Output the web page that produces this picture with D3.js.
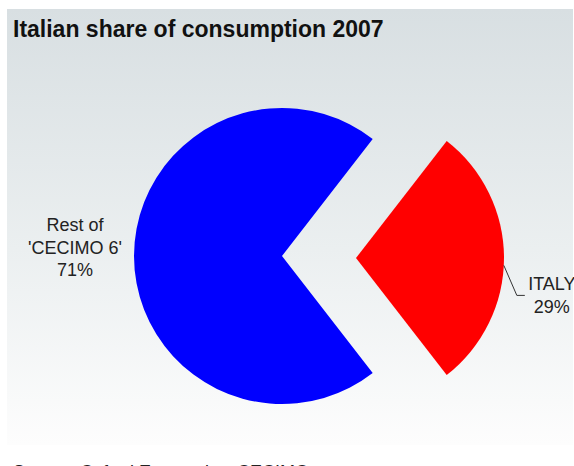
<!DOCTYPE html>
<html>
<head>
<meta charset="utf-8">
<script src="https://cdn.jsdelivr.net/npm/d3@7"></script>
<style>
  html, body { margin: 0; padding: 0; background: #ffffff; }
  svg { display: block; }
</style>
</head>
<body>
<svg id="chart" width="574" height="466"></svg>
<script>
// Data
const categories = ["ITALY", "Rest of 'CECIMO 6'"];
const shares = [29, 71];
const labelLines = [["ITALY", "29%"], ["Rest of", "'CECIMO 6'", "71%"]];
const sliceColors = ["#ff0000", "#0000ff"];
const title = "Italian share of consumption 2007";
const source = "Source: Oxford Economics, CECIMO";

const svg = d3.select("#chart");

// Background panel gradient
const defs = svg.append("defs");
const grad = defs.append("linearGradient").attr("id", "bg").attr("x1", 0).attr("y1", 0).attr("x2", 0).attr("y2", 1);
grad.append("stop").attr("offset", "0%").attr("stop-color", "#d8dfe2");
grad.append("stop").attr("offset", "55%").attr("stop-color", "#ebeff0");
grad.append("stop").attr("offset", "100%").attr("stop-color", "#fdfdfd");

svg.append("rect").attr("x", 7).attr("y", 9).attr("width", 566).attr("height", 436).attr("fill", "url(#bg)");

svg.append("text")
  .attr("x", 13).attr("y", 37)
  .attr("font-family", "Liberation Sans, Arial, sans-serif")
  .attr("font-weight", "bold").attr("font-size", 23)
  .attr("fill", "#111")
  .text(title);

svg.append("text")
  .attr("x", 13).attr("y", 478)
  .attr("font-family", "Liberation Sans, Arial, sans-serif")
  .attr("font-size", 18).attr("fill", "#222")
  .text(source);

// Pie
const cx = 282, cy = 256, R = 148, explode = 74;
const total = d3.sum(shares);
const start = Math.PI / 2 - (shares[0] / total) * Math.PI;
const pie = d3.pie().sort(null).value(d => d).startAngle(start).endAngle(start + 2 * Math.PI);
const arcs = pie(shares);
const arc = d3.arc().innerRadius(0).outerRadius(R);

const g = svg.append("g").attr("transform", `translate(${cx},${cy})`);
const italy = arcs[0];
const am = (italy.startAngle + italy.endAngle) / 2;
const ox = explode * Math.sin(am), oy = -explode * Math.cos(am) + 2;

g.selectAll("path").data(arcs).join("path")
  .attr("d", arc)
  .attr("fill", (d, i) => sliceColors[i])
  .attr("transform", (d, i) => i === 0 ? `translate(${ox},${oy})` : null);

// Italy label with leader line
const la = am + 0.05;
const p0 = [ox + R * Math.sin(la), oy - R * Math.cos(la)];
const p1 = [p0[0] + 13, p0[1] + 30];
const p2 = [p1[0] + 8, p1[1]];
g.append("polyline")
  .attr("points", [p0, p1, p2].map(p => p.join(",")).join(" "))
  .attr("fill", "none").attr("stroke", "#333").attr("stroke-width", 1);

const tIt = g.append("text")
  .attr("font-family", "Liberation Sans, Arial, sans-serif")
  .attr("font-size", 18).attr("fill", "#222").attr("text-anchor", "middle");
labelLines[0].forEach((t, i) => {
  tIt.append("tspan").attr("x", p2[0] + 27).attr("y", p2[1] - 5 + i * 23).text(t);
});

// Rest label
const tR = g.append("text")
  .attr("font-family", "Liberation Sans, Arial, sans-serif")
  .attr("font-size", 18).attr("fill", "#222").attr("text-anchor", "middle");
labelLines[1].forEach((t, i) => {
  tR.append("tspan").attr("x", -207).attr("y", -25 + i * 22.5).text(t);
});
</script>
</body>
</html>
